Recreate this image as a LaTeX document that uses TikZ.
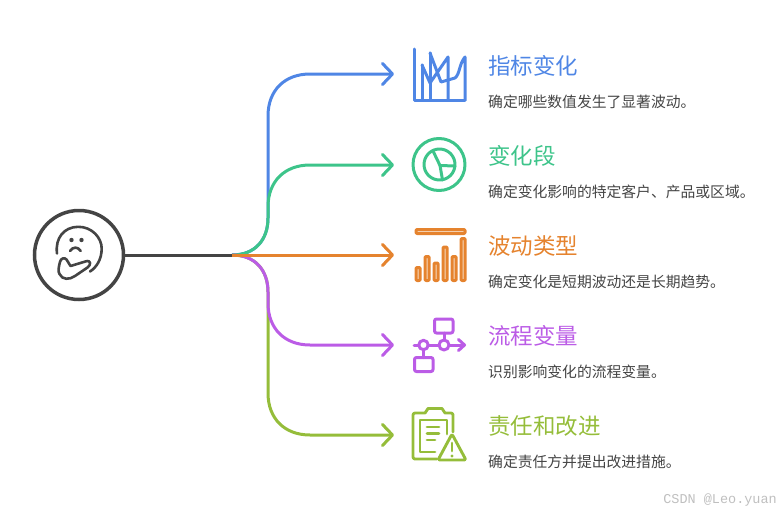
\documentclass[tikz,border=0pt]{standalone}
\usepackage{fontspec}
\setmainfont{Noto Sans CJK SC}
\newfontfamily\wmfont{Liberation Mono}
\usetikzlibrary{arrows.meta}
\definecolor{cblue}{HTML}{4F86E5}
\definecolor{cgreen}{HTML}{3DC48A}
\definecolor{corange}{HTML}{E5832E}
\definecolor{cpurple}{HTML}{BB5CE6}
\definecolor{colive}{HTML}{95BD3A}
\definecolor{cdark}{HTML}{444444}
\tikzset{
  conn/.style={line width=3pt,-{Straight Barb[length=10pt,width=21pt,line width=3pt,round]}},
  stem/.style={line width=3pt},
  icon/.style={line width=3pt,line join=round,line cap=round},
  thin icon/.style={line width=3pt,line join=round,line cap=round},
  title/.style={anchor=west,inner sep=0pt,font=\fontsize{22.5}{25}\selectfont},
  desc/.style={anchor=west,inner sep=0pt,text=cdark,font=\fontsize{14.8}{17}\selectfont},
}
\begin{document}
\begin{tikzpicture}[x=1pt,y=-1pt]
\useasboundingbox (0,0) rectangle (781,514);
% hub
\node[circle,draw=cdark,line width=3.5pt,minimum size=89pt,inner sep=0pt] (hub) at (79,255) {};
\coordinate (branch) at (232,255);
\coordinate (end1) at (394,74);
\coordinate (end2) at (394,165);
\coordinate (end3) at (394,255);
\coordinate (end4) at (394,345);
\coordinate (end5) at (394,435);
% connectors
\draw[conn,cblue] (branch) .. controls (255,255) and (268,240) .. (268,218) -- (268,116) .. controls (268,90) and (285,74) .. (310,74) -- (end1);
\draw[conn,colive] (branch) .. controls (255,255) and (268,270) .. (268,292) -- (268,393) .. controls (268,419) and (285,435) .. (310,435) -- (end5);
\draw[conn,cgreen] (branch) .. controls (255,255) and (268,240) .. (268,218) -- (268,207) .. controls (268,181) and (285,165) .. (310,165) -- (end2);
\draw[conn,cpurple] (branch) .. controls (255,255) and (268,270) .. (268,292) -- (268,303) .. controls (268,329) and (285,345) .. (310,345) -- (end4);
\draw[stem,cdark] (hub) -- (branch);
\draw[conn,corange] (branch) -- (end3);
% hub icon
\begin{scope}[cdark,line width=2.6pt,line cap=round,line join=round]
\draw (57,253.5) .. controls (55,238) and (64,227) .. (78,226.8) .. controls (92,226.6) and (102,238) .. (101.7,249) .. controls (101.5,259) and (97,267) .. (90,271.5);
\fill (71.5,240) circle (2.2);
\fill (81.5,240) circle (2.2);
\draw (70,251) .. controls (73,246.5) and (78,246.5) .. (80.7,251);
\draw (87,261) -- (70.5,266) -- (66.5,259.5) .. controls (64.5,257) and (60.5,258.5) .. (60,262) .. controls (58.5,267) and (58,272) .. (59.5,274) .. controls (62.5,280) and (69,280) .. (75,276) -- (87.5,267.5) .. controls (91,265) and (91,260.5) .. (87,261);
\end{scope}
% icon 1
\begin{scope}[icon,cblue]
\draw (414,49) -- (414,100) -- (465,100);
\draw (422,65) -- (422,100);
\draw (430,53) -- (430,100);
\draw (422,65) -- (430,83) -- (448,57) -- (448,100);
\draw (430,53) -- (441,82) -- (455,78) .. controls (460,74) and (459,64) .. (465,57) -- (465,100);
\end{scope}
% icon 2
\begin{scope}[icon,cgreen]
\draw (439,164.5) circle (26);
\draw (439.5,164.5) circle (15.5);
\draw (433.5,152) -- (440,165.5) -- (455,166);
\draw (440,165.5) -- (442.5,180);
\end{scope}
% icon 3
\begin{scope}[thin icon,corange,fill=corange!30]
\draw[fill,rounded corners=1pt] (416,229.5) rectangle (465,233.5);
\foreach \xa/\ya in {416/267.5, 425/256.5, 434/263, 443/247, 452/256.5, 461/238.5}
  \draw[fill,rounded corners=1pt] (\xa,\ya) rectangle (\xa+4.2,280.5);
\end{scope}
% icon 4
\begin{scope}[icon,cpurple]
\draw[rounded corners=2pt] (434.5,319) rectangle (453,333);
\draw[rounded corners=2pt] (414.5,357.5) rectangle (433,371.5);
\draw (414,345) -- (418.5,345);
\draw (428,345) -- (439.5,345);
\draw (449,345) -- (464,345);
\draw (458.5,339.5) -- (464.5,345) -- (458.5,350.5);
\draw (423.5,345) circle (4.7);
\draw (444,345) circle (5);
\draw (444,333) -- (444,340);
\draw (423.5,350) -- (423.5,357.5);
\end{scope}
% icon 5
\begin{scope}[icon,colive,line width=2.9pt]
\draw (437,459) -- (415,459) .. controls (414,459) and (413,458) .. (413,457) -- (413,415) .. controls (413,414) and (414,413) .. (415,413) -- (425,413) -- (428,408.5) -- (442,408.5) -- (445,413) -- (451,413) .. controls (452,413) and (453,414) .. (453,415) -- (453,432);
\draw (435,452) -- (420,452) -- (420,420) -- (447,420) -- (447,434);
\draw (427,427) -- (439,427);
\draw (427,433.5) -- (439,433.5);
\draw (427,440) -- (435,440);
\draw[rounded corners=2pt] (452,434) -- (438,460) -- (466,460) -- cycle;
\draw (452,443) -- (452,451);
\fill (452,456) circle (1.7);
\end{scope}
% texts
\node[title,text=cblue] (t1) at (488,66) {指标变化};
\node[desc] (d1) at (488,102) {确定哪些数值发生了显著波动。};
\node[title,text=cgreen] (t2) at (488,156) {变化段};
\node[desc] (d2) at (488,192) {确定变化影响的特定客户、产品或区域。};
\node[title,text=corange] (t3) at (488,246) {波动类型};
\node[desc] (d3) at (488,282) {确定变化是短期波动还是长期趋势。};
\node[title,text=cpurple] (t4) at (488,336) {流程变量};
\node[desc] (d4) at (488,372) {识别影响变化的流程变量。};
\node[title,text=colive] (t5) at (488,426) {责任和改进};
\node[desc] (d5) at (488,462) {确定责任方并提出改进措施。};
\node[anchor=east,inner sep=0pt,text=black!25,font=\wmfont\fontsize{13.5}{15}\selectfont] (wm) at (777,500) {CSDN @Leo.yuan};
\end{tikzpicture}
\end{document}
